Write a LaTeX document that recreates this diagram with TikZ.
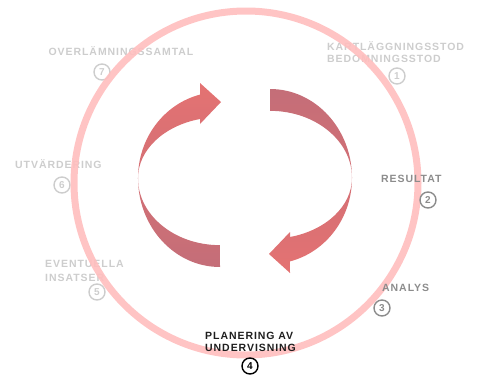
\documentclass[tikz,border=0pt]{standalone}
\usepackage{fontspec}
\setmainfont{Liberation Sans}
\newfontfamily\lblfont[LetterSpace=9]{Liberation Sans}
\definecolor{ringpink}{RGB}{255,190,190}
\definecolor{lightg}{RGB}{205,205,205}
\definecolor{midg}{RGB}{140,140,140}
\definecolor{darkg}{RGB}{30,30,30}
\definecolor{arrowA}{RGB}{228,114,114}
\definecolor{arrowB}{RGB}{196,110,120}
\tikzset{
  lbl/.style={font=\lblfont\bfseries\fontsize{10.5}{12}\selectfont, inner sep=0pt, anchor=base west, align=left},
  num/.style={circle, draw, line width=1.4pt, minimum size=16pt, inner sep=0pt, font=\bfseries\fontsize{10}{10}\selectfont},
  ring/.style={draw=ringpink, line width=7pt, opacity=0.9},
  bigarrow/.style={top color=arrowA, bottom color=arrowB, draw=none},
  bigarrowrev/.style={top color=arrowB, bottom color=arrowA, draw=none}
}
\begin{document}
\begin{tikzpicture}[x=1pt,y=1pt]
\useasboundingbox (0,0) rectangle (477,-378);
% light labels
\node[lbl, anchor=base, text=lightg] (l7) at (121,-55) {OVERLÄMNINGSSAMTAL};
\node[num, draw=lightg, text=lightg] (n7) at (102,-72) {7};
\node[lbl, text=lightg] (l1) at (327,-62) {KARTLÄGGNINGSSTOD\\BEDOMNINGSSTOD};
\node[num, draw=lightg, text=lightg] (n1) at (397,-76) {1};
\node[lbl, text=lightg] (l6) at (15,-168) {UTVÄRDERING};
\node[num, draw=lightg, text=lightg] (n6) at (62,-185) {6};
\node[lbl, text=lightg] (l5) at (45,-281) {EVENTUELLA\\[2pt]INSATSER};
\node[num, draw=lightg, text=lightg] (n5) at (97,-292) {5};
% ring
\draw[ring] (246,-183) circle[radius=172pt];
% arrows
\def\arrowpath{
  (220,-267) arc[start angle=270, end angle=180, x radius=82pt, y radius=89pt]
  arc[start angle=180, end angle=104.1, x radius=82pt, y radius=86pt]
  -- (200,-83) -- (221,-102) -- (200,-124) -- (200,-119)
  arc[start angle=104.1, end angle=180, x radius=82pt, y radius=61pt]
  arc[start angle=180, end angle=270, x radius=82pt, y radius=67pt]
  -- cycle}
\path[bigarrow] \arrowpath;
\begin{scope}[rotate around={180:(245,-178)}]
\path[bigarrowrev] \arrowpath;
\end{scope}
% darker labels
\node[lbl, text=midg] (l2) at (381,-182) {RESULTAT};
\node[num, draw=midg, text=midg] (n2) at (428,-200) {2};
\node[lbl, text=midg] (l3) at (382,-291) {ANALYS};
\node[num, draw=midg, text=midg] (n3) at (382,-308) {3};
\node[lbl, text=darkg] (l4) at (205,-351) {PLANERING AV\\UNDERVISNING};
\node[num, draw=black, text=black] (n4) at (250,-366) {4};
\end{tikzpicture}
\end{document}
